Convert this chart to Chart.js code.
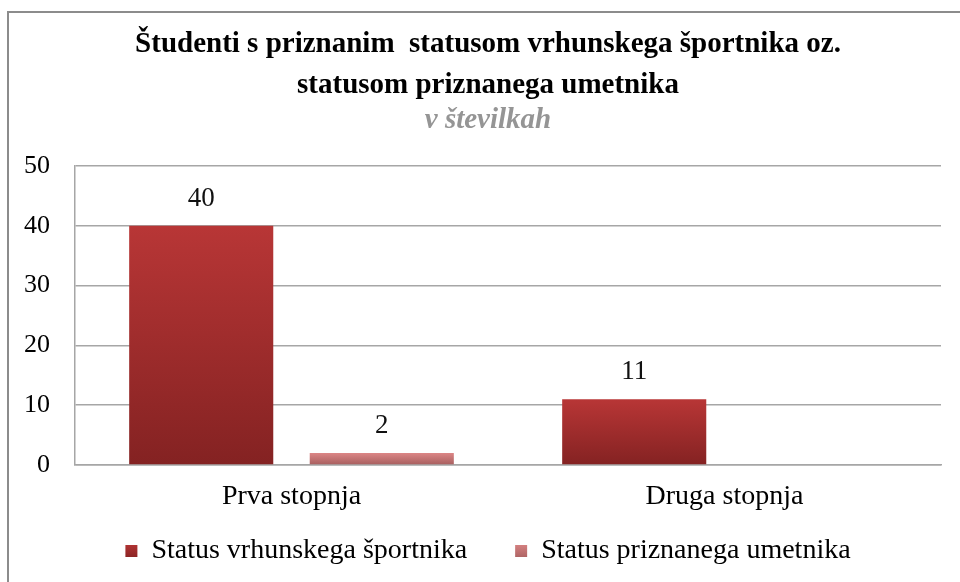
<!DOCTYPE html>
<html>
<head>
<meta charset="utf-8">
<script src="https://cdn.jsdelivr.net/npm/chart.js@4/dist/chart.umd.min.js"></script>
<style>
  html, body { margin: 0; padding: 0; background: #fff; }
  #wrap { position: relative; width: 960px; height: 582px; overflow: hidden; }
  #frame { position: absolute; left: 7px; top: 11px; width: 1000px; height: 1000px; border: 2px solid #8c8c8c; box-sizing: border-box; }
  canvas { position: absolute; left: 0; top: 0; }
</style>
</head>
<body>
<div id="wrap">
  <div id="frame"></div>
  <canvas id="c" width="976" height="582"></canvas>
</div>
<script>
const categories = ["Prva stopnja", "Druga stopnja"];
const seriesNames = ["Status vrhunskega športnika", "Status priznanega umetnika"];
const sportniki = [40, 11];
const umetniki = [2, 0];
const titleLines = ["Študenti s priznanim  statusom vrhunskega športnika oz.", "statusom priznanega umetnika"];
const subtitleText = "v številkah";
const yTicks = [0, 10, 20, 30, 40, 50];

const FONT = "'Liberation Serif', 'Times New Roman', serif";
const COLORS = [['#b83636', '#842222'], ['#dc8686', '#a65e5e']];

function barGrad(ctx, top, bottom) {
  const chart = ctx.chart;
  const ys = chart.scales && chart.scales.y;
  if (!ys || ctx.type !== 'data' || !chart.chartArea) return bottom;
  const v = ctx.raw || 0;
  let y0 = ys.getPixelForValue(v);
  let y1 = ys.getPixelForValue(0);
  if (Math.abs(y1 - y0) < 1) y0 = y1 - 1;
  const g = chart.ctx.createLinearGradient(0, y0, 0, y1);
  g.addColorStop(0, top);
  g.addColorStop(1, bottom);
  return g;
}

const valueLabels = {
  id: 'valueLabels',
  afterDatasetsDraw(chart) {
    const ctx = chart.ctx;
    ctx.save();
    ctx.font = "27px " + FONT;
    ctx.fillStyle = "#111";
    ctx.textAlign = "center";
    ctx.textBaseline = "middle";
    chart.data.datasets.forEach((ds, i) => {
      const meta = chart.getDatasetMeta(i);
      meta.data.forEach((bar, j) => {
        const v = ds.data[j];
        if (!v) return;
        ctx.fillText(String(v), bar.x, bar.y - 27);
      });
    });
    ctx.restore();
  }
};

// let the legend's top padding overlap the x-axis label band
const legendShift = {
  id: 'legendShift',
  afterLayout(chart) {
    const lg = chart.legend;
    if (lg) { lg.top -= 24; lg.bottom -= 24; }
  }
};

new Chart(document.getElementById('c'), {
  type: 'bar',
  data: {
    labels: categories,
    datasets: [
      {
        label: seriesNames[0],
        data: sportniki,
        backgroundColor: (ctx) => barGrad(ctx, COLORS[0][0], COLORS[0][1]),
        borderWidth: 0,
        categoryPercentage: 0.834,
        barPercentage: 0.798
      },
      {
        label: seriesNames[1],
        data: umetniki,
        backgroundColor: (ctx) => barGrad(ctx, COLORS[1][0], COLORS[1][1]),
        borderWidth: 0,
        categoryPercentage: 0.834,
        barPercentage: 0.798
      }
    ]
  },
  options: {
    responsive: false,
    animation: false,
    layout: { padding: { left: 0, right: 0, top: 0, bottom: -17 } },
    plugins: {
      title: {
        display: true,
        text: titleLines,
        color: '#000',
        font: { family: FONT, size: 29, weight: 'bold', lineHeight: 1.414 },
        padding: { top: 24, bottom: 0 }
      },
      subtitle: {
        display: true,
        text: subtitleText,
        color: '#959595',
        font: { family: FONT, size: 29, weight: 'bold', style: 'italic', lineHeight: 1.0 },
        padding: { top: 0, bottom: 31 }
      },
      legend: {
        position: 'bottom',
        labels: {
          color: '#000',
          font: { family: FONT, size: 28 },
          boxWidth: 12,
          boxHeight: 12,
          padding: 48,
          generateLabels(chart) {
            const items = Chart.defaults.plugins.legend.labels.generateLabels(chart);
            items.forEach((it, i) => {
              const g = chart.ctx.createLinearGradient(0, 542, 0, 560);
              g.addColorStop(0, COLORS[i][0]);
              g.addColorStop(1, COLORS[i][1]);
              it.fillStyle = g;
              it.lineWidth = 0;
              it.strokeStyle = 'rgba(0,0,0,0)';
            });
            return items;
          }
        }
      },
      tooltip: { enabled: false }
    },
    scales: {
      x: {
        afterFit(scale) { scale.height = 48; },
        grid: { display: false, drawTicks: false },
        border: { display: true, color: '#a6a6a6', width: 1.5 },
        ticks: { color: '#000', font: { family: FONT, size: 28 }, padding: 15 }
      },
      y: {
        min: 0,
        max: 50,
        afterFit(scale) { scale.width = 75; },
        afterBuildTicks(scale) { scale.ticks = yTicks.map(v => ({ value: v })); },
        grid: { color: '#a6a6a6', lineWidth: 1.5, drawTicks: false },
        border: { display: true, color: '#a6a6a6', width: 1.5 },
        ticks: { color: '#000', font: { family: FONT, size: 26 }, padding: 25 }
      },
      spacer: {
        type: 'linear',
        position: 'right',
        display: true,
        afterFit(scale) { scale.width = 35; },
        grid: { display: false, drawTicks: false },
        border: { display: false },
        ticks: { display: false }
      }
    }
  },
  plugins: [valueLabels, legendShift]
});
</script>
</body>
</html>
